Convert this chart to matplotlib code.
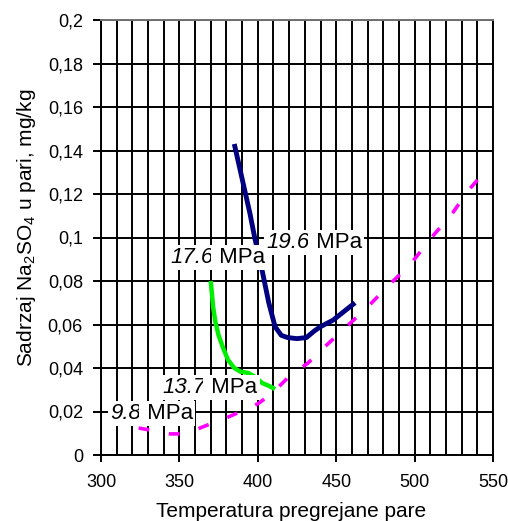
import matplotlib
matplotlib.use("Agg")
from matplotlib import pyplot as plt
from matplotlib.ticker import FixedLocator, FuncFormatter

plt.rcParams['font.family'] = ['Liberation Sans', 'DejaVu Sans']
plt.rcParams['mathtext.fontset'] = 'custom'
plt.rcParams['mathtext.rm'] = 'Liberation Sans'

# 19.6 MPa
t_196 = [385, 390, 395, 398, 403, 407, 411, 415, 419, 425, 431, 436, 440, 448, 455, 462]
c_196 = [0.143, 0.127, 0.111, 0.100, 0.084, 0.070, 0.059, 0.055, 0.054, 0.0535, 0.054, 0.057, 0.059, 0.062, 0.066, 0.070]

# 17.6 MPa
t_176 = [370, 371.5, 373, 375, 378, 381, 385, 389, 394, 398, 403, 407, 411]
c_176 = [0.080, 0.068, 0.061, 0.055, 0.049, 0.0437, 0.040, 0.0383, 0.0377, 0.036, 0.033, 0.0318, 0.0303]

# 9.8 / 13.7 MPa (isprekidana linija)
t_mag = [324, 335, 344, 352, 360, 368, 378, 387, 395, 401, 410, 419, 432, 444, 457, 470, 483, 497, 512, 524, 534, 545]
c_mag = [0.0124, 0.011, 0.0097, 0.0097, 0.0115, 0.0138, 0.0165, 0.0193, 0.0215, 0.024, 0.029, 0.0354, 0.0423, 0.0506, 0.0593, 0.068, 0.0777, 0.0874, 0.101, 0.111, 0.1214, 0.1305]

pressures = ['19.6', '17.6', '13.7', '9.8']
label_x = [405.5, 344.0, 339.0, 306.0]
label_y = [0.0975, 0.0908, 0.031, 0.0193]

x_major = [300, 350, 400, 450, 500, 550]
y_major = [0, 0.02, 0.04, 0.06, 0.08, 0.1, 0.12, 0.14, 0.16, 0.18, 0.2]

fig = plt.figure(figsize=(5.08, 5.21), dpi=100)
ax = fig.add_axes([101 / 508, 66 / 521, 392 / 508, 435 / 521])

ax.plot(t_mag, c_mag, color='#ff00ff', lw=2.6, dashes=(3.0, 5.5), zorder=3)
ax.plot(t_176, c_176, color='#00ee00', lw=3.2, solid_capstyle='butt', zorder=3)
ax.plot(t_196, c_196, color='#000080', lw=3.5, solid_capstyle='butt', zorder=3)

# broj u kurzivu, "MPa" uspravno
for p, lx, ly in zip(pressures, label_x, label_y):
    t1 = ax.text(lx, ly, p, fontsize=16, style='italic', ha='left', va='center', zorder=4,
                 bbox=dict(facecolor='white', edgecolor='none', pad=1.5))
    ax.annotate(' MPa', xy=(1, 0), xycoords=t1, fontsize=16, ha='left', va='bottom', zorder=4,
                bbox=dict(facecolor='white', edgecolor='none', pad=1.5))

ax.set_xlim(300, 550)
ax.set_ylim(0, 0.2)
ax.xaxis.set_major_locator(FixedLocator(x_major))
ax.xaxis.set_minor_locator(FixedLocator(range(300, 551, 10)))
ax.yaxis.set_major_locator(FixedLocator(y_major))
ax.yaxis.set_major_formatter(FuncFormatter(lambda v, p: ('%g' % round(v, 2)).replace('.', ',')))

ax.grid(True, which='both', axis='x', color='black', lw=1.4)
ax.grid(True, which='major', axis='y', color='black', lw=1.4)
ax.set_axisbelow(True)
ax.tick_params(axis='x', which='major', length=5, width=1.4, pad=9, labelsize=13)
ax.tick_params(axis='x', which='minor', length=0)
ax.tick_params(axis='y', length=6, width=1.4, pad=7, labelsize=13)
for s in ax.spines.values():
    s.set_linewidth(1.4)
ax.spines['top'].set_color('#707070')

fig.text(291 / 508, 4 / 521, 'Temperatura pregrejane pare', fontsize=15,
         ha='center', va='baseline')
fig.text(32 / 508, (521 - 228) / 521, r'Sadrzaj Na$_2$SO$_4$ u pari, mg/kg', fontsize=15,
         rotation=90, rotation_mode='anchor', ha='center', va='baseline')

fig.savefig('out.png', dpi=100)
